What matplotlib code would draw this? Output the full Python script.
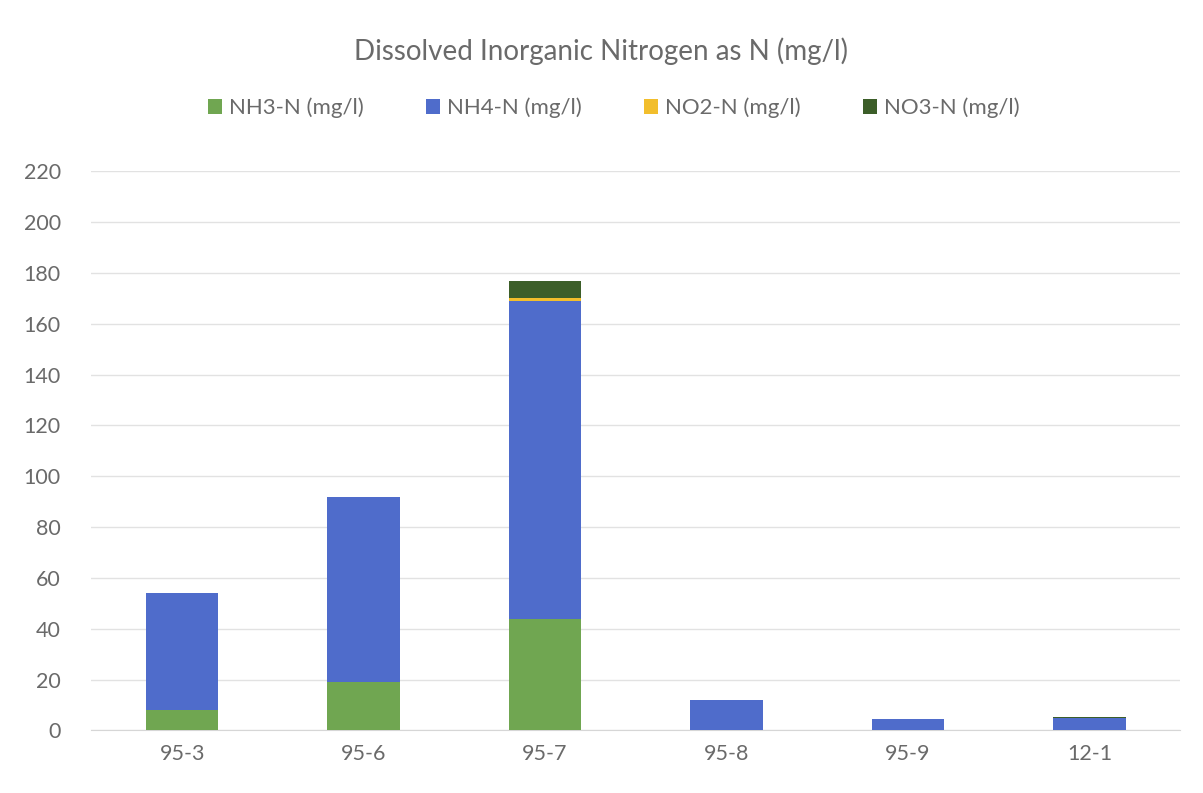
import numpy as np
import matplotlib.pyplot as plt

plt.rcParams['font.family'] = ['Lato', 'DejaVu Sans']

# ---- data ----
wells = ['95-3', '95-6', '95-7', '95-8', '95-9', '12-1']
nh3 = [8, 19, 44, 0, 0.3, 0]
nh4 = [46, 73, 125, 12, 4.2, 4.8]
no2 = [0, 0, 1, 0, 0, 0]
no3 = [0, 0, 7, 0, 0, 0.3]

series = [
    ('NH3-N (mg/l)', nh3, '#70A651'),
    ('NH4-N (mg/l)', nh4, '#4F6CCB'),
    ('NO2-N (mg/l)', no2, '#F2BE2C'),
    ('NO3-N (mg/l)', no3, '#3C5E29'),
]

fig = plt.figure(figsize=(12.03, 7.93), dpi=100)
ax = fig.add_axes([0.076, 0.079, 0.905, 0.705])

x = np.arange(len(wells))
bottom = np.zeros(len(wells))
for label, vals, color in series:
    vals = np.array(vals, dtype=float)
    ax.bar(x, vals, width=0.4, bottom=bottom, color=color, label=label, zorder=3)
    bottom += vals

ax.set_ylim(0, 220)
ax.set_yticks(np.arange(0, 221, 20))
ax.set_xlim(-0.5, len(wells) - 0.5)
ax.set_xticks(x)
ax.set_xticklabels(wells)
ax.grid(axis='y', color='#E2E2E2', linewidth=1, zorder=0)
for s in ['top', 'right', 'left']:
    ax.spines[s].set_visible(False)
ax.spines['bottom'].set_color('#D6D6D6')
ax.tick_params(axis='both', length=0, labelsize=15.5, colors='#6A6A6A', pad=10)
ax.tick_params(axis='y', pad=22)

fig.text(0.5, 0.935, 'Dissolved Inorganic Nitrogen as N (mg/l)', ha='center', va='center',
         fontsize=20, color='#6A6A6A')
fig.legend(loc='center', bbox_to_anchor=(0.51, 0.864), ncol=4, frameon=False,
           fontsize=16, labelcolor='#6A6A6A', handlelength=0.65, handleheight=0.65,
           handletextpad=0.3, columnspacing=2.8)

plt.savefig('out.png', dpi=100)
